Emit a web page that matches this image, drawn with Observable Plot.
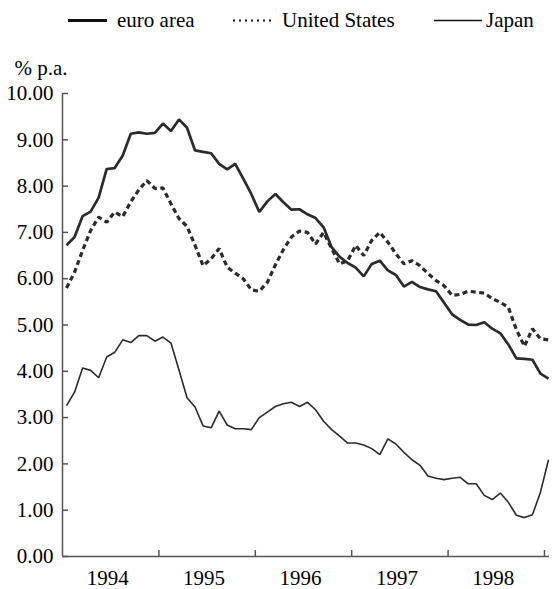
<!DOCTYPE html>
<html><head><meta charset="utf-8">
<script src="https://cdn.jsdelivr.net/npm/d3@7"></script>
<script src="https://cdn.jsdelivr.net/npm/@observablehq/plot@0.6"></script>
<style>
body{margin:0;background:#fff;font-family:"Liberation Serif","DejaVu Serif",serif;}
#wrap{width:554px;height:589px;position:relative;overflow:hidden;background:#fff}
#legend{height:42px;width:554px;}
#legend svg, #chart svg{display:block}
</style></head><body><div id="wrap"><div id="legend"></div><div id="chart"></div></div>
<script>
// Series (monthly averages, first observation January 1994)
const seriesNames = ["euro area", "United States", "Japan"];
const startYear = 1994;
const euroArea = [6.72, 6.90, 7.35, 7.45, 7.75, 8.37, 8.39, 8.66, 9.13, 9.16, 9.13, 9.15,
  9.35, 9.19, 9.44, 9.26, 8.77, 8.74, 8.71, 8.48, 8.36, 8.48, 8.16, 7.83,
  7.44, 7.67, 7.83, 7.65, 7.49, 7.50, 7.39, 7.31, 7.11, 6.68, 6.47, 6.34,
  6.24, 6.05, 6.32, 6.39, 6.18, 6.08, 5.83, 5.93, 5.82, 5.77, 5.73, 5.48,
  5.23, 5.11, 5.01, 5.00, 5.06, 4.92, 4.82, 4.58, 4.28, 4.27, 4.25, 3.95,
  3.84];
const unitedStates = [5.80, 6.14, 6.61, 7.04, 7.33, 7.22, 7.44, 7.34, 7.66, 7.92, 8.12, 7.95,
  7.96, 7.62, 7.30, 7.13, 6.72, 6.28, 6.43, 6.65, 6.25, 6.12, 6.00, 5.76,
  5.73, 5.92, 6.30, 6.63, 6.90, 7.03, 7.00, 6.75, 7.00, 6.65, 6.32, 6.39,
  6.72, 6.50, 6.83, 7.00, 6.79, 6.54, 6.32, 6.39, 6.28, 6.11, 5.96, 5.85,
  5.64, 5.66, 5.73, 5.71, 5.69, 5.57, 5.49, 5.38, 4.90, 4.54, 4.92, 4.70,
  4.68];
const japan = [3.26, 3.55, 4.07, 4.02, 3.86, 4.31, 4.41, 4.68, 4.62, 4.77, 4.77, 4.65,
  4.74, 4.61, 4.03, 3.43, 3.23, 2.82, 2.78, 3.14, 2.84, 2.76, 2.76, 2.74,
  3.00, 3.12, 3.24, 3.30, 3.33, 3.24, 3.33, 3.17, 2.92, 2.74, 2.60, 2.45,
  2.45, 2.41, 2.33, 2.20, 2.54, 2.43, 2.25, 2.09, 1.97, 1.74, 1.69, 1.66,
  1.69, 1.71, 1.57, 1.57, 1.32, 1.23, 1.37, 1.17, 0.89, 0.84, 0.90, 1.39,
  2.09];
const yTicks = [0, 1, 2, 3, 4, 5, 6, 7, 8, 9, 10];
const yearBoundaries = [1995, 1996, 1997, 1998, 1999];
const yearLabels = ["1994", "1995", "1996", "1997", "1998"];
const unitLabel = "% p.a.";

const seriesValues = [euroArea, unitedStates, japan];
const styles = {
  "euro area": {strokeWidth: 2.7, dash: null},
  "United States": {strokeWidth: 3.2, dash: "5,3.5"},
  "Japan": {strokeWidth: 1.6, dash: null}
};
const ink = "#2b2b2b";
const fontStack = '"Liberation Serif", "DejaVu Serif", serif';

const rows = [];
seriesNames.forEach((name, s) => seriesValues[s].forEach((v, i) =>
  rows.push({series: name, date: startYear + (i + 0.5) / 12, value: v})));

// Legend
const leg = d3.select("#legend").append("svg").attr("width", 554).attr("height", 42)
  .style("font-family", fontStack).style("font-size", "21px");
const legItems = [
  {name: "euro area", x1: 68, x2: 107, tx: 117, w: 3, dash: null},
  {name: "United States", x1: 233, x2: 275, tx: 282, w: 2, dash: "2,4"},
  {name: "Japan", x1: 434, x2: 482, tx: 486, w: 1.5, dash: null}
];
legItems.forEach(it => {
  leg.append("line").attr("x1", it.x1).attr("x2", it.x2).attr("y1", 20.5).attr("y2", 20.5)
    .attr("stroke", "#111").attr("stroke-width", it.w).attr("stroke-dasharray", it.dash);
  leg.append("text").attr("x", it.tx).attr("y", 27).attr("fill", "#000").text(it.name);
});

const lineMarks = seriesNames.map(name => Plot.line(rows.filter(d => d.series === name), {
  x: "date", y: "value", stroke: ink, strokeWidth: styles[name].strokeWidth,
  strokeDasharray: styles[name].dash, strokeLinejoin: "miter", strokeLinecap: "butt"
}));

const chart = Plot.plot({
  width: 554, height: 547,
  marginTop: 51, marginLeft: 62, marginRight: 5, marginBottom: 33,
  style: {fontFamily: fontStack, fontSize: "21px", color: "#000", background: "#fff"},
  x: {domain: [1994, 1999.052]},
  y: {domain: [0, 10]},
  marks: [
    Plot.axisY({ticks: yTicks, tickSize: 0, tickPadding: 9, tickFormat: d => d.toFixed(2), label: null, fontSize: 21}),
    Plot.axisY({ticks: yTicks, anchor: "right", frameAnchor: "left", tickSize: 5, text: null, label: null, stroke: "#555", strokeWidth: 1.5}),
    Plot.axisX({ticks: yearBoundaries, anchor: "top", frameAnchor: "bottom", tickSize: 7, text: null, label: null, stroke: "#555", strokeWidth: 1.5}),
    Plot.axisX({ticks: yearLabels.map(y => +y + 0.5), tickSize: 0, tickPadding: 14, dx: -3, tickFormat: d => String(Math.floor(d)), label: null, fontSize: 21}),
    Plot.ruleX([1994], {stroke: "#555", strokeWidth: 1.5}),
    Plot.ruleY([0], {stroke: "#555", strokeWidth: 1.5}),
    ...lineMarks,
    Plot.text([unitLabel], {frameAnchor: "top-left", dx: -48, dy: -33, textAnchor: "start", fontSize: 21, fill: "#000"})
  ]
});
document.getElementById("chart").appendChild(chart);
</script></body></html>
